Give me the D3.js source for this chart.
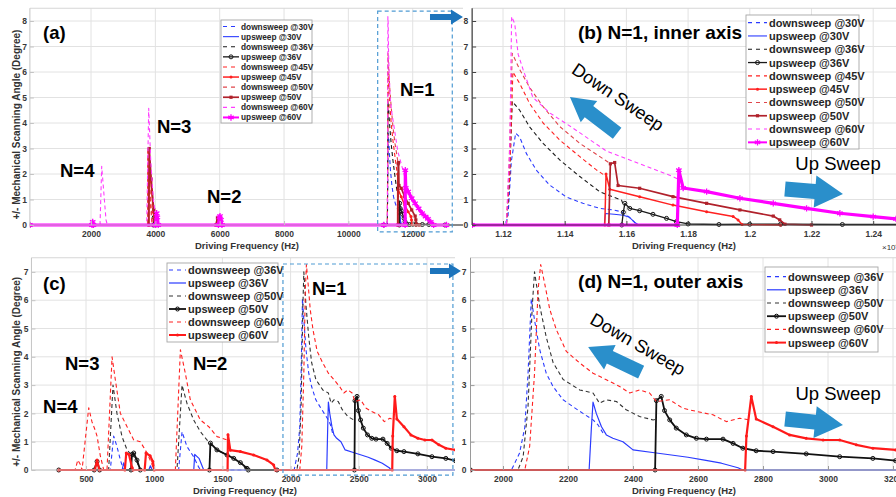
<!DOCTYPE html>
<html>
<head>
<meta charset="utf-8">
<script src="https://cdn.jsdelivr.net/npm/d3@7"></script>
<style>
body { margin: 0; background: #fff; }
svg { display: block; font-family: "Liberation Sans", Arial, Helvetica, sans-serif; }
</style>
</head>
<body>
<svg id="chart" width="896" height="497"></svg>
<script>
// ---------- panel (b): N=1, inner axis, frequency in 1e4 Hz ----------
var bDown30 = [[1.1100,0],[1.1205,0],[1.1216,0.3],[1.1227,2.5],[1.1241,3.6],[1.1254,3.45],[1.1276,2.8],[1.1308,2.15],[1.1351,1.57],[1.1405,1.1],[1.1459,0.85],[1.1514,0.65],[1.1557,0.59],[1.1584,0.52],[1.1610,0.3],[1.1635,0]];
var bUp30 = [[1.1100,0],[1.1528,0],[1.1532,0.45],[1.1560,0.42],[1.1590,0.38],[1.1610,0.3],[1.1627,0.1],[1.1640,0],[1.1700,0]];
var bDown36 = [[1.1100,0],[1.1211,0],[1.1220,1.5],[1.1230,4.85],[1.1254,4.5],[1.1286,3.85],[1.1330,3.2],[1.1384,2.55],[1.1449,1.9],[1.1514,1.3],[1.1557,1.1],[1.1584,0.98],[1.1590,0.8]];
var bUp36 = [[1.1100,0],[1.1585,0],[1.1590,0.5],[1.1595,0.85],[1.1611,0.65],[1.1643,0.56],[1.1686,0.42],[1.1730,0.26],[1.1762,0.13],[1.1800,0.04],[1.1900,0.02],[1.2000,0.03],[1.2100,0.03],[1.2300,0.02],[1.2500,0.02],[1.3000,0],[1.3800,0]];
var bDown45 = [[1.1100,0],[1.1211,0],[1.1222,2.0],[1.1232,6.0],[1.1254,5.55],[1.1286,4.77],[1.1330,4.0],[1.1384,3.33],[1.1449,2.68],[1.1503,2.16],[1.1535,1.9]];
var bUp45 = [[1.1100,0],[1.1530,0],[1.1534,2.0],[1.1546,1.4],[1.1643,1.11],[1.1751,0.78],[1.1860,0.52],[1.1946,0.33],[1.1962,0.2],[1.1975,0.02],[1.2100,0]];
var bDown50 = [[1.1100,0],[1.1211,0],[1.1220,2.5],[1.1230,6.73],[1.1254,6.1],[1.1286,5.4],[1.1330,4.64],[1.1384,3.86],[1.1449,3.2],[1.1514,2.68],[1.1546,2.42]];
var bUp50 = [[1.1100,0],[1.1543,0],[1.1548,2.4],[1.1562,2.45],[1.1573,1.55],[1.1643,1.44],[1.1751,1.11],[1.1860,0.85],[1.1968,0.59],[1.2076,0.35],[1.2097,0.2],[1.2114,0.03],[1.2200,0]];
var bDown60 = [[1.1100,0],[1.1211,0],[1.1222,3.0],[1.1228,8.17],[1.1238,7.9],[1.1249,6.7],[1.1265,6.1],[1.1297,5.0],[1.1351,4.4],[1.1427,3.8],[1.1535,2.9],[1.1643,2.4],[1.1751,1.9],[1.1773,1.76]];
var bUp60 = [[1.1100,0],[1.1765,0],[1.1770,2.15],[1.1784,1.45],[1.1860,1.31],[1.1968,1.05],[1.2076,0.85],[1.2184,0.65],[1.2292,0.46],[1.2400,0.33],[1.2474,0.24],[1.2560,0.12],[1.2650,0],[1.3050,0]];

// ---------- panel (a): modes N=2..4, inner axis, Hz ----------
var aLowDown30 = [[100,0]];
var aLowUp30 = [[100,0]];
var aLowDown36 = [[100,0]];
var aLowUp36 = [[100,0],[3940,0],[3965,0.3],[3990,0.05],[4010,0]];
var aLowDown45 = [[100,0],[3755,0],[3765,2.9],[3800,1.9],[3860,0.6],[3900,0]];
var aLowUp45 = [[100,0],[3790,0],[3800,2.9],[3860,1.7],[3940,0.5],[3980,0],[5900,0],[5945,0.22],[5975,0]];
var aLowDown50 = [[100,0],[3758,0],[3768,3.05],[3805,2.0],[3870,0.7],[3910,0]];
var aLowUp50 = [[100,0],[3800,0],[3810,3.0],[3870,1.8],[3950,0.6],[3990,0],[5880,0],[5930,0.28],[5960,0.2],[5990,0]];
var aLowDown60 = [[100,0],[2280,0],[2332,2.3],[2383,1.5],[2466,0.2],[2508,0],[3731,0],[3793,4.58],[3855,2.55],[3938,0.98],[4021,0.33],[4062,0]];
var aLowUp60 = [[100,0],[2030,0],[2052,0.12],[2075,0],[4000,0],[4041,0.46],[4062,0.3],[4090,0],[5960,0],[5990,0.3],[6010,0.35],[6040,0.2],[6070,0]];

// ---------- panel (d): N=1, outer axis, Hz ----------
var dDown36 = [[1900,0],[2026,0],[2051,0.6],[2067,1.5],[2077,3.4],[2087,6.05],[2097,5.3],[2113,4.25],[2133,3.42],[2154,2.95],[2185,2.48],[2215,2.24],[2246,2.0],[2277,1.77],[2292,1.6],[2308,1.3]];
var dUp36 = [[1900,0],[2265,0],[2272,1.5],[2277,2.4],[2287,2.0],[2303,1.53],[2318,1.24],[2338,1.12],[2369,1.0],[2400,0.71],[2466,0.61],[2518,0.53],[2569,0.45],[2620,0.35],[2672,0.24],[2723,0.08],[2738,0],[3300,0]];
var dDown50 = [[1900,0],[2046,0],[2062,0.47],[2077,2.24],[2090,5.78],[2097,7.0],[2113,5.8],[2133,4.7],[2154,3.8],[2185,3.2],[2236,2.83],[2277,2.72],[2297,2.36],[2318,2.48],[2349,2.42],[2379,2.13],[2420,1.89],[2462,1.77],[2472,1.8]];
var dUp50 = [[1900,0],[2468,0],[2472,2.45],[2487,2.6],[2497,2.1],[2513,1.77],[2533,1.48],[2564,1.24],[2595,1.12],[2626,1.09],[2677,1.09],[2708,0.94],[2738,0.77],[2779,0.68],[2831,0.65],[2933,0.57],[3036,0.47],[3138,0.41],[3208,0.33],[3260,0.3]];
var dDown60 = [[1900,0],[2067,0],[2082,0.83],[2097,3.42],[2108,6.37],[2116,7.26],[2128,6.6],[2144,5.67],[2164,4.96],[2195,4.19],[2236,3.78],[2277,3.42],[2318,3.19],[2359,2.95],[2390,2.72],[2420,2.83],[2451,2.72],[2472,2.42],[2513,2.48],[2554,2.18],[2595,2.07],[2646,1.95],[2687,1.71],[2728,1.83],[2759,1.77]];
var dUp60 = [[1900,0],[2745,0],[2749,1.2],[2764,2.6],[2779,1.8],[2831,1.53],[2882,1.24],[2933,1.12],[2985,1.06],[3036,1.06],[3087,0.89],[3138,0.77],[3208,0.71],[3260,0.68]];

// ---------- panel (c): modes N=2..4, outer axis, Hz ----------
var cLowDown36 = [[300,0],[678,0],[703,1.2],[727,0.83],[752,0.35],[776,0],[1179,0],[1204,1.35],[1240,0.83],[1289,0.47],[1326,0.1],[1340,0]];
var cLowUp36 = [[300,0],[765,0],[776,0.25],[790,0],[960,0],[972,0.15],[985,0],[1290,0],[1297,0.55],[1330,0.4],[1363,0]];
var cLowDown50 = [[300,0],[666,0],[698,3.0],[727,2.0],[764,1.18],[801,0.71],[837,0.5],[860,0.45],[880,0.2],[898,0],[1167,0],[1204,3.0],[1240,2.36],[1289,1.77],[1338,1.36],[1387,1.06],[1412,0.94],[1460,0.71],[1534,0.53],[1583,0.41],[1632,0.26],[1680,0]];
var cLowUp50 = [[300,0],[560,0],[581,0.3],[600,0],[830,0],[837,0.55],[850,0.6],[874,0.35],[898,0],[1405,0],[1412,0.95],[1460,0.71],[1534,0.53],[1583,0.41],[1632,0.26],[1680,0.06],[1690,0]];
var cLowDown60 = [[300,0],[420,0],[440,0.35],[458,0.2],[471,0],[520,2.2],[544,1.7],[568,1.4],[581,1.2],[605,0.5],[630,0],[654,0],[691,4.0],[715,3.19],[752,2.0],[801,1.53],[850,1.06],[898,1.0],[923,0.8],[947,0.6],[975,0.3],[1000,0],[1155,0],[1192,4.25],[1228,3.42],[1265,2.48],[1338,1.77],[1400,1.53],[1461,1.18],[1534,1.06],[1558,0.7],[1632,0.65],[1729,0.53],[1827,0.35],[1876,0.18],[1888,0]];
var cLowUp60 = [[300,0],[565,0],[581,0.35],[598,0],[785,0],[795,0.6],[815,0.55],[837,0.1],[845,0],[930,0],[940,0.6],[970,0.5],[990,0.3],[1000,0],[1538,0],[1541,1.25],[1558,0.7],[1632,0.65],[1729,0.53],[1827,0.35],[1876,0.18],[1888,0]];

// ---------- ticks and labels ----------
var aTicksX = [2000, 4000, 6000, 8000, 10000, 12000];
var bTicksX = [1.12, 1.14, 1.16, 1.18, 1.2, 1.22, 1.24];
var cTicksX = [500, 1000, 1500, 2000, 2500, 3000];
var dTicksX = [2000, 2200, 2400, 2600, 2800, 3000, 3200];
var innerTicksY = [0, 1, 2, 3, 4, 5, 6, 7, 8];
var outerTicksY = [0, 1, 2, 3, 4, 5, 6, 7];
var innerLabels = ["downsweep @30V", "upsweep @30V", "downsweep @36V", "upsweep @36V", "downsweep @45V",
                   "upsweep @45V", "downsweep @50V", "upsweep @50V", "downsweep @60V", "upsweep @60V"];
var outerLabels = ["downsweep @36V", "upsweep @36V", "downsweep @50V", "upsweep @50V", "downsweep @60V", "upsweep @60V"];

// ---------- styles ----------
var innerStyles = [
  {color: "#2b3bff", dash: "4,3", width: 1.1},
  {color: "#2b3bff", width: 1.1},
  {color: "#1a1a1a", dash: "4,3", width: 1.1},
  {color: "#1a1a1a", width: 1.3, marker: "circle"},
  {color: "#ff2020", dash: "4,3", width: 1.1},
  {color: "#ff2020", width: 1.5, marker: "dot"},
  {color: "#e0454b", dash: "4,3", width: 1.1},
  {color: "#b0212b", width: 1.7, marker: "square"},
  {color: "#ff3dff", dash: "4,3", width: 1.1},
  {color: "#ff00ff", width: 3.2, marker: "star"}
];
var outerStyles = [
  {color: "#2b3bff", dash: "4,3", width: 1.1},
  {color: "#2b3bff", width: 1.2},
  {color: "#333333", dash: "4,3", width: 1.1},
  {color: "#111111", width: 1.8, marker: "circle"},
  {color: "#ff2020", dash: "4,3", width: 1.1},
  {color: "#ff1a1a", width: 2.2, marker: "dot"}
];

var svg = d3.select("#chart");
var tickFont = 8.5;

function scaleTo1e4(arr) {
  return arr.map(function(d) { return [d[0] * 1e4, d[1]]; });
}

function drawMarkers(g, pts, st, fx, fy) {
  if (!st.marker) return;
  var sel = g.selectAll(null).data(pts).enter();
  if (st.marker === "circle") {
    sel.append("circle").attr("cx", function(d) { return fx(d[0]); }).attr("cy", function(d) { return fy(d[1]); })
      .attr("r", 2).attr("fill", "none").attr("stroke", st.color).attr("stroke-width", 1);
  } else if (st.marker === "dot") {
    sel.append("circle").attr("cx", function(d) { return fx(d[0]); }).attr("cy", function(d) { return fy(d[1]); })
      .attr("r", 1.5).attr("fill", st.color);
  } else if (st.marker === "square") {
    sel.append("rect").attr("x", function(d) { return fx(d[0]) - 1.6; }).attr("y", function(d) { return fy(d[1]) - 1.6; })
      .attr("width", 3.2).attr("height", 3.2).attr("fill", st.color);
  } else if (st.marker === "star") {
    sel.append("path").attr("d", d3.symbol().type(d3.symbolAsterisk || d3.symbolCross).size(28))
      .attr("transform", function(d) { return "translate(" + fx(d[0]) + "," + fy(d[1]) + ")"; })
      .attr("fill", "none").attr("stroke", st.color).attr("stroke-width", 1.3);
  }
}

function drawPanel(p) {
  var x = d3.scaleLinear().domain(p.xDomain).range(p.xRange);
  var y = d3.scaleLinear().domain(p.yDomain).range(p.yRange);
  var left = p.xRange[0], right = p.clipRight, top = p.yRange[1], bottom = p.yRange[0];
  var g = svg.append("g");

  // grid
  g.selectAll(null).data(p.xTicks).enter().append("line")
    .attr("x1", function(d) { return x(d); }).attr("x2", function(d) { return x(d); })
    .attr("y1", top).attr("y2", bottom).attr("stroke", "#e2e2e2").attr("stroke-width", 1);
  g.selectAll(null).data(p.yTicks).enter().append("line")
    .attr("x1", left).attr("x2", right)
    .attr("y1", function(d) { return y(d); }).attr("y2", function(d) { return y(d); })
    .attr("stroke", "#e2e2e2").attr("stroke-width", 1);
  g.append("line").attr("x1", left).attr("x2", right).attr("y1", top).attr("y2", top)
    .attr("stroke", "#d6d6d6");

  // clip
  svg.append("clipPath").attr("id", "clip-" + p.id).append("rect")
    .attr("x", left).attr("y", top - 3).attr("width", right - left).attr("height", bottom - top + 6);
  var plot = g.append("g").attr("clip-path", "url(#clip-" + p.id + ")");
  var line = d3.line().x(function(d) { return x(d[0]); }).y(function(d) { return y(d[1]); });

  p.series.forEach(function(data, i) {
    var st = p.styles[i];
    plot.append("path").datum(data).attr("d", line)
      .attr("fill", "none").attr("stroke", st.color).attr("stroke-width", st.width)
      .attr("stroke-dasharray", st.dash || null).attr("stroke-linejoin", "round");
    drawMarkers(plot, data, st, x, y);
  });

  // axes
  var xa = g.append("g").attr("transform", "translate(0," + bottom + ")")
    .call(d3.axisBottom(x).tickValues(p.xTicks).tickFormat(p.xFormat)
      .tickSizeInner(-4).tickSizeOuter(0).tickPadding(6));
  var ya = g.append("g").attr("transform", "translate(" + left + ",0)")
    .call(d3.axisLeft(y).tickValues(p.yTicks).tickFormat(d3.format("d"))
      .tickSizeInner(-4).tickSizeOuter(0).tickPadding(p.yPad));
  [xa, ya].forEach(function(a) {
    a.select(".domain").remove();
    a.selectAll(".tick line").attr("stroke", p.axisColor);
    a.selectAll("text").attr("font-size", tickFont).attr("font-weight", "bold").attr("fill", "#383838")
      .attr("font-family", "Liberation Sans, Arial, sans-serif");
  });
  g.append("line").attr("x1", left).attr("x2", left).attr("y1", top).attr("y2", bottom)
    .attr("stroke", p.axisColor).attr("stroke-width", p.axisWidth);
  g.append("line").attr("x1", left).attr("x2", right).attr("y1", bottom).attr("y2", bottom)
    .attr("stroke", p.axisColor).attr("stroke-width", 1);

  // axis titles
  g.append("text").attr("x", p.xLabelX).attr("y", bottom + 24).attr("text-anchor", "middle")
    .attr("font-size", 9.5).attr("font-weight", "bold").attr("fill", "#333").text("Driving Frequency (Hz)");
  if (p.yLabel) {
    g.append("text").attr("transform", "translate(19.5," + ((top + bottom) / 2 + 8) + ") rotate(-90)")
      .attr("text-anchor", "middle").attr("font-size", 10).attr("font-weight", "bold").attr("fill", "#333")
      .text("+/- Mechanical Scanning Angle (Degree)");
  }
  return {x: x, y: y};
}

function drawLegend(box, labels, styles) {
  var lg = svg.append("g").attr("transform", "translate(" + box.x + "," + box.y + ")");
  lg.append("rect").attr("width", box.w).attr("height", box.h).attr("fill", "#fff")
    .attr("stroke", "#a6a6a6").attr("stroke-width", 0.9);
  labels.forEach(function(label, i) {
    var cy = box.pad + box.row * (i + 0.5);
    var st = styles[i];
    lg.append("line").attr("x1", 2).attr("x2", 2 + box.sample).attr("y1", cy).attr("y2", cy)
      .attr("stroke", st.color).attr("stroke-width", Math.min(st.width, 2))
      .attr("stroke-dasharray", st.dash ? "4,4" : null);
    drawMarkers(lg, [[2 + box.sample / 2, cy]], st, function(v) { return v; }, function(v) { return v; });
    lg.append("text").attr("x", box.sample + 4).attr("y", cy).attr("dy", "0.36em")
      .attr("font-size", box.fs).attr("font-weight", "bold").attr("fill", "#262626").text(label);
  });
}

function label(sc, fx, fy, txt, size, weight, anchor, rot) {
  var t = svg.append("text").attr("font-size", size).attr("font-weight", weight || "bold")
    .attr("fill", "#000").attr("text-anchor", anchor || "start").text(txt);
  if (rot) {
    t.attr("transform", "translate(" + sc.x(fx) + "," + sc.y(fy) + ") rotate(" + rot + ")").attr("dy", "0.35em");
  } else {
    t.attr("x", sc.x(fx)).attr("y", sc.y(fy));
  }
}

function blockArrow(sc, f1, v1, f2, v2, shaftW, headW, headL, color) {
  var x1 = sc.x(f1), y1 = sc.y(v1), x2 = sc.x(f2), y2 = sc.y(v2);
  var len = Math.hypot(x2 - x1, y2 - y1), ang = Math.atan2(y2 - y1, x2 - x1) * 180 / Math.PI;
  var s = shaftW / 2, h = headW / 2, b = len - headL;
  var pts = [[0, -s], [b, -s], [b, -h], [len, 0], [b, h], [b, s], [0, s]];
  svg.append("path").attr("d", "M" + pts.join("L") + "Z")
    .attr("transform", "translate(" + x1 + "," + y1 + ") rotate(" + ang + ")").attr("fill", color);
}

function dashedBox(sc, f1, f2, v1, v2) {
  svg.append("rect").attr("x", sc.x(f1)).attr("y", sc.y(v2))
    .attr("width", sc.x(f2) - sc.x(f1)).attr("height", sc.y(v1) - sc.y(v2))
    .attr("fill", "none").attr("stroke", "#4f9bd3").attr("stroke-width", 1.2).attr("stroke-dasharray", "4,3");
}

// ---------- panels ----------
var A = drawPanel({
  id: "a", xDomain: [100, 13700], xRange: [29.9, 467.4], clipRight: 463,
  yDomain: [0, 8.5], yRange: [225, 8.25], xTicks: aTicksX, yTicks: innerTicksY,
  xFormat: d3.format("d"), yPad: 3, axisColor: "#c4c4c4", axisWidth: 1, xLabelX: 247, yLabel: true,
  styles: innerStyles,
  series: [
    aLowDown30.concat(scaleTo1e4(bDown30)), aLowUp30.concat(scaleTo1e4(bUp30)),
    aLowDown36.concat(scaleTo1e4(bDown36)), aLowUp36.concat(scaleTo1e4(bUp36)),
    aLowDown45.concat(scaleTo1e4(bDown45)), aLowUp45.concat(scaleTo1e4(bUp45)),
    aLowDown50.concat(scaleTo1e4(bDown50)), aLowUp50.concat(scaleTo1e4(bUp50)),
    aLowDown60.concat(scaleTo1e4(bDown60)), aLowUp60.concat(scaleTo1e4(bUp60))
  ]
});
var B = drawPanel({
  id: "b", xDomain: [1.11, 1.25], xRange: [472.15, 904.05], clipRight: 896,
  yDomain: [0, 8.5], yRange: [225, 8.25], xTicks: bTicksX, yTicks: innerTicksY,
  xFormat: function(d) { return String(+d.toFixed(2)); }, yPad: 4, axisColor: "#444", axisWidth: 1.3,
  xLabelX: 684, yLabel: false, styles: innerStyles,
  series: [bDown30, bUp30, bDown36, bUp36, bDown45, bUp45, bDown50, bUp50, bDown60, bUp60]
});
var C = drawPanel({
  id: "c", xDomain: [100, 3250], xRange: [31.44, 461.1], clipRight: 455,
  yDomain: [0, 7.5], yRange: [470, 257.75], xTicks: cTicksX, yTicks: outerTicksY,
  xFormat: d3.format("d"), yPad: 3, axisColor: "#c4c4c4", axisWidth: 1, xLabelX: 245, yLabel: true,
  styles: outerStyles,
  series: [cLowDown36.concat(dDown36), cLowUp36.concat(dUp36), cLowDown50.concat(dDown50),
           cLowUp50.concat(dUp50), cLowDown60.concat(dDown60), cLowUp60.concat(dUp60)]
});
var D = drawPanel({
  id: "d", xDomain: [1900, 3250], xRange: [470.5, 909.25], clipRight: 896,
  yDomain: [0, 7.5], yRange: [470, 257.75], xTicks: dTicksX, yTicks: outerTicksY,
  xFormat: d3.format("d"), yPad: 4, axisColor: "#9a9a9a", axisWidth: 1, xLabelX: 684, yLabel: false,
  styles: outerStyles,
  series: [dDown36, dUp36, dDown50, dUp50, dDown60, dUp60]
});

// exponent of panel (b) axis
svg.append("text").attr("x", 882).attr("y", 250).attr("font-size", 8).attr("fill", "#333")
  .text("\u00d710").append("tspan").attr("dy", -3).attr("font-size", 6).text("4");

// ---------- legends ----------
drawLegend({x: 221, y: 20, w: 91, h: 103, pad: 1.5, row: 10.1, sample: 16, fs: 8.3}, innerLabels, innerStyles);
drawLegend({x: 746, y: 15, w: 113, h: 134, pad: 1, row: 13.3, sample: 19, fs: 11}, innerLabels, innerStyles);
drawLegend({x: 167, y: 263, w: 111, h: 79, pad: 0.5, row: 13, sample: 17, fs: 11}, outerLabels, outerStyles);
drawLegend({x: 765, y: 267, w: 113, h: 85, pad: 3, row: 13.2, sample: 19, fs: 11}, outerLabels, outerStyles);

// ---------- annotations ----------
dashedBox(A, 10911, 13230, -0.27, 8.39);
dashedBox(C, 1944, 3190, -0.18, 7.28);
blockArrow(A, 12537, 8.16, 13562, 8.16, 6, 15, 12, "#1c74bc");
blockArrow(C, 3022, 7.03, 3249, 7.03, 6, 15, 12, "#1c74bc");

label(A, 507, 7.3, "(a)", 18.5);
label(A, 11604, 5.05, "N=1", 18.5);
label(A, 4050, 3.61, "N=3", 18.5);
label(A, 1035, 1.88, "N=4", 18.5);
label(A, 5605, 0.86, "N=2", 18.5);
label(B, 1.1443, 7.3, "(b) N=1, inner axis", 19);
label(B, 1.1573, 5.02, "Down Sweep", 18, "normal", "middle", 34);
label(B, 1.2286, 2.16, "Up Sweep", 18.5, "normal", "middle");
blockArrow(B, 1.1570, 3.6, 1.1417, 5.02, 14, 27, 24, "#2a8fcb");
blockArrow(B, 1.2114, 1.41, 1.2302, 1.22, 15, 32, 28, "#2a8fcb");

label(C, 185, 6.36, "(c)", 18.5);
label(C, 2157, 6.18, "N=1", 18.5);
label(C, 346, 3.53, "N=3", 18.5);
label(C, 1284, 3.53, "N=2", 18.5);
label(C, 185, 2.01, "N=4", 18.5);
label(D, 2231, 6.43, "(d) N=1, outer axis", 19);
label(D, 2415, 4.45, "Down Sweep", 18, "normal", "middle", 30);
label(D, 3031, 2.47, "Up Sweep", 18.5, "normal", "middle");
blockArrow(D, 2425, 3.46, 2262, 4.35, 14, 27, 24, "#2a8fcb");
blockArrow(D, 2868, 1.8, 3046, 1.59, 15, 32, 28, "#2a8fcb");
</script>
</body>
</html>
